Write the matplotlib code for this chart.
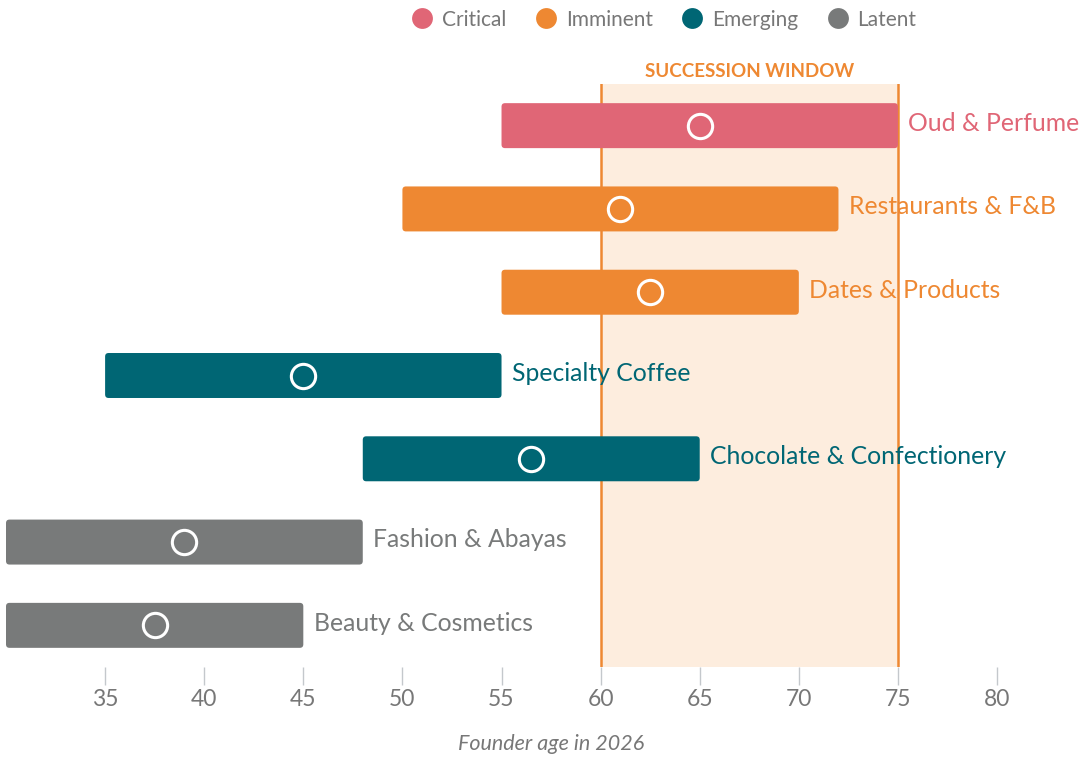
import matplotlib.pyplot as plt
from matplotlib.patches import FancyBboxPatch
from matplotlib.lines import Line2D

plt.rcParams['font.family'] = ['Lato', 'DejaVu Sans']

# donnees
sectors = ["Oud & Perfume", "Restaurants & F&B", "Dates & Products", "Specialty Coffee",
           "Chocolate & Confectionery", "Fashion & Abayas", "Beauty & Cosmetics"]
age_min = [55, 50, 55, 35, 48, 30, 30]
age_max = [75, 72, 70, 55, 65, 48, 45]
age_mid = [65, 61, 62.5, 45, 56.5, 39, 37.5]
status = ["Critical", "Imminent", "Imminent", "Emerging", "Emerging", "Latent", "Latent"]
ticks = [35, 40, 45, 50, 55, 60, 65, 70, 75, 80]
window = (60, 75)

colors = {"Critical": "#E06676", "Imminent": "#EE8832", "Emerging": "#006674", "Latent": "#787A7A"}
grey = "#777777"

W, H = 1080, 757
fig = plt.figure(figsize=(W / 100, H / 100), dpi=100)
ax = fig.add_axes([6 / W, 90 / H, 1050.5 / W, 583 / H])
ax.set_xlim(30, 83)
ax.set_ylim(len(sectors) - 0.5, -0.5)

# fenetre de succession
ax.axvspan(window[0], window[1], color="#FDEDDE", zorder=0, lw=0)
for x in window:
    ax.axvline(x, color="#EE8832", lw=1.8, zorder=1)
ax.annotate("SUCCESSION WINDOW", (sum(window) / 2, -0.5), xytext=(0, 3),
            textcoords="offset points", ha="center", va="bottom",
            color="#EE8832", fontsize=13.5, fontweight="bold")

h = 0.54
px_x = 1050.5 / 53
px_y = 583 / 7
r = 3.5 / px_x
for i, s in enumerate(sectors):
    c = colors[status[i]]
    p = FancyBboxPatch((age_min[i], i - h / 2), age_max[i] - age_min[i], h,
                       boxstyle="round,pad=0,rounding_size=%f" % r,
                       mutation_aspect=px_x / px_y, fc=c, ec="none", zorder=2)
    ax.add_patch(p)
    ax.plot(age_mid[i], i, "o", ms=17.5, mfc="none", mec="white", mew=2.2, zorder=3)
    ax.annotate(s, (age_max[i], i), xytext=(7.5, 1.5), textcoords="offset points",
                ha="left", va="center", color=c, fontsize=17.8)

ax.set_xticks(ticks)
ax.set_yticks([])
ax.tick_params(axis="x", length=13, width=1, color="#c4c8cc", labelcolor=grey,
               labelsize=16.5, pad=3)
for sp in ax.spines.values():
    sp.set_visible(False)
ax.set_xlabel("Founder age in 2026", fontsize=15.5, style="italic", color=grey)
ax.xaxis.set_label_coords((551 - 6) / 1050.5, -0.115)

handles = [Line2D([], [], ls="none", marker="o", ms=15, mfc=colors[k], mec="none")
           for k in colors]
fig.legend(handles, list(colors), loc="upper center", bbox_to_anchor=(0.614, 1.012),
           ncol=4, frameon=False, fontsize=15, labelcolor=grey, handletextpad=0.35,
           columnspacing=1.3, handlelength=1.2)

fig.savefig("out.png", dpi=100)
